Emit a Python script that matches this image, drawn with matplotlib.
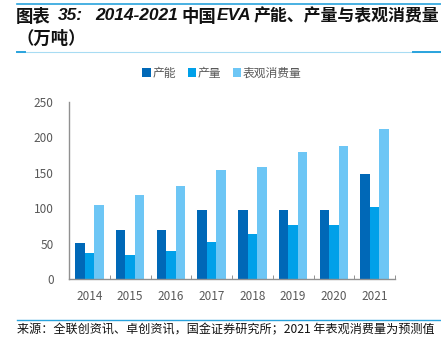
import numpy as np
import matplotlib
matplotlib.use("Agg")
from matplotlib import pyplot as plt
from matplotlib.lines import Line2D
from matplotlib.patches import Patch

plt.rcParams['font.family'] = ['Noto Sans CJK SC', 'DejaVu Sans']

years = ["2014", "2015", "2016", "2017", "2018", "2019", "2020", "2021"]
capacity = [51, 69, 69, 98, 98, 98, 98, 148]
production = [37, 34, 39, 52, 64, 76, 76, 102]
consumption = [104, 118, 132, 154, 158, 179, 188, 212]
seriesNames = ["产能", "产量", "表观消费量"]
colours = ["#0068B7", "#00A0E9", "#6DC6F5"]

fig = plt.figure(figsize=(4.41, 3.49), dpi=100)
ax = fig.add_axes([69/441, 1-279/349, 326/441, 177/349])

x = np.arange(len(years))
w = 0.235
for k, vals in enumerate([capacity, production, consumption]):
    ax.bar(x + (k-1)*w, vals, width=w, color=colours[k], zorder=2)

ax.set_xlim(-0.5, len(years)-0.5)
ax.set_ylim(0, 250)
ax.set_yticks(range(0, 251, 50))
ax.set_xticks(x)
ax.set_xticklabels(years)
ax.set_xticks(np.arange(-0.5, len(years), 1), minor=True)
ax.tick_params(axis='x', which='major', length=0, pad=8, labelsize=8.5, labelcolor="#595959")
ax.tick_params(axis='x', which='minor', length=3, direction='in', color="#808080")
ax.tick_params(axis='y', length=0, pad=11, labelsize=8.5, labelcolor="#595959")
for s in ["top", "right"]:
    ax.spines[s].set_visible(False)
for s in ["left", "bottom"]:
    ax.spines[s].set_color("#909090")
    ax.spines[s].set_linewidth(1.0)

handles = [Patch(facecolor=c, edgecolor='none') for c in colours]
fig.legend(handles, seriesNames, loc='center', bbox_to_anchor=(222/441, 1-73/349),
           ncol=3, frameon=False, fontsize=8.5, handlelength=0.7, handleheight=0.7,
           handletextpad=0.15, columnspacing=1.0, labelcolor="#595959")

# header and footer rules
def hline(y, x0, x1, color, lw):
    fig.add_artist(Line2D([x0/441, x1/441], [1-y/349, 1-y/349], color=color, lw=lw))

hline(3.5, 17, 441, "#29A3DD", 1.2)
hline(52, 17, 441, "#A8DCF3", 0.8)
hline(52, 17, 25, "#29A3DD", 1.4)
hline(52, 413, 441, "#29A3DD", 1.4)
hline(319.5, 17, 441, "#29A3DD", 1.0)

# title: latin parts in bold italic, CJK parts in bold
titleFont = dict(family=['Liberation Sans', 'Noto Sans CJK SC'], fontweight='bold',
                 va='center', ha='left', color="#111111")
titleParts = [("图表", 16, 12.5, 'normal'), ("35:", 58, 12.5, 'italic'),
              ("2014-2021", 95, 12.5, 'italic'), ("中国", 181, 12.5, 'normal'),
              ("EVA", 217, 12.5, 'italic'), ("产能、产量与表观消费量", 254, 12.2, 'normal')]
for txt, px, fs, st in titleParts:
    fig.text(px/441, 1-16/349, txt, fontsize=fs, fontstyle=st, **titleFont)
fig.text(16/441, 1-38/349, "（万吨）", fontsize=12.5, **titleFont)

fig.text(17/441, 1-330/349, "来源：全联创资讯、卓创资讯，国金证券研究所；2021 年表观消费量为预测值",
         fontsize=8.7, va='center', ha='left', color="#111111")

fig.savefig("out.png", dpi=100)
